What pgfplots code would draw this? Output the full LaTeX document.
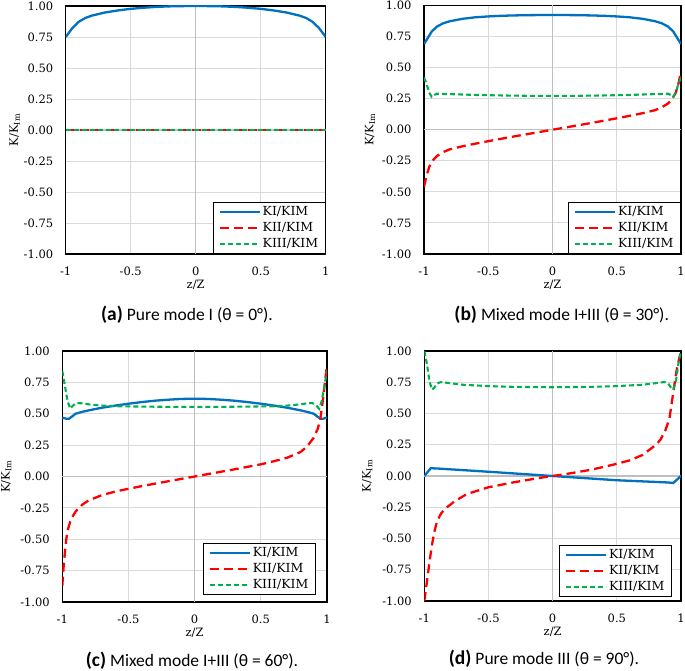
\documentclass[border=0pt]{standalone}
\usepackage{pgfplots}
\pgfplotsset{compat=1.18}
\usepackage{fontspec}
\setmainfont{DejaVu Serif}
\newfontfamily\capfont{Carlito}
\definecolor{kblue}{RGB}{0,112,192}
\definecolor{kred}{RGB}{255,0,0}
\definecolor{kgreen}{RGB}{0,176,80}
\definecolor{gridc}{RGB}{217,217,217}
\definecolor{zeroc}{RGB}{191,191,191}
\pgfplotsset{
  kstyle/.style={
    scale only axis,
    xmin=-1, xmax=1, ymin=-1, ymax=1,
    xtick={-1,-0.5,0,0.5,1},
    xticklabels={-1,-0.5,0,0.5,1},
    ytick={-1,-0.75,-0.5,-0.25,0,0.25,0.5,0.75,1},
    yticklabels={-1.00,-0.75,-0.50,-0.25,0.00,0.25,0.50,0.75,1.00},
    grid=major,
    grid style={draw=gridc, line width=0.9pt},
    major tick length=0pt,
    extra x ticks={0}, extra y ticks={0},
    extra x tick labels={}, extra y tick labels={},
    extra tick style={grid=major, major tick length=0pt, grid style={draw=zeroc, line width=1.3pt}},
    axis line style={black, line width=1.1pt},
    tick label style={font=\fontsize{11.5}{13}\selectfont},
    xticklabel style={anchor=base, yshift=-22pt},
    yticklabel style={anchor=east, xshift=-9pt},
    xlabel={z/Z},
    ylabel={K/K\textsubscript{Im}},
    label style={font=\fontsize{11.5}{13}\selectfont},
    xlabel style={at={(axis description cs:0.5,0)}, anchor=center, yshift=-31pt},
    legend cell align=left,
    legend style={draw=black, line width=1.1pt, fill=white,
      font=\fontsize{12.5}{14}\selectfont, inner xsep=5pt, inner ysep=2pt,
      row sep=1.5pt},
    legend image code/.code={\draw[#1] (0pt,0pt) -- (40pt,0pt);},
  },
  kI/.style={kblue, line width=2.3pt, solid},
  kII/.style={kred, line width=2.3pt, dash pattern=on 9pt off 5pt},
  kIII/.style={kgreen, line width=2.1pt, dash pattern=on 5pt off 3pt},
}
\begin{document}
\begin{tikzpicture}[x=1pt, y=1pt]
\useasboundingbox (0,0) rectangle (685,671);

% (a)
\begin{axis}[kstyle, at={(65.7pt,417pt)}, anchor=south west, width=260pt, height=248pt,
  ylabel style={at={([xshift=-51pt]axis description cs:0,0.5)}, anchor=center},
  legend style={at={(1,0)}, anchor=south east}]
\addplot[kI] coordinates {(-1,0.75) (-0.95,0.82) (-0.9,0.872) (-0.85,0.903) (-0.8,0.922) (-0.7,0.947) (-0.6,0.964) (-0.5,0.977) (-0.4,0.986) (-0.3,0.993) (-0.2,0.997) (-0.1,0.999) (0,1.0) (0.1,0.999) (0.2,0.997) (0.3,0.993) (0.4,0.986) (0.5,0.977) (0.6,0.964) (0.7,0.947) (0.8,0.922) (0.85,0.903) (0.9,0.872) (0.95,0.82) (1,0.75)};
\addlegendentry{KI/KIM}
\addplot[kII] coordinates {(-1,0) (-0.5,0) (0,0) (0.5,0) (1,0)};
\addlegendentry{KII/KIM}
\addplot[kIII] coordinates {(-1,0) (-0.5,0) (0,0) (0.5,0) (1,0)};
\addlegendentry{KIII/KIM}
\end{axis}
\node[font=\capfont\fontsize{17.5}{20}\selectfont] at (187,356) {{\fontsize{19.5}{22}\selectfont\bfseries (a)} Pure mode I (θ = 0°).};

% (b)
\begin{axis}[kstyle, at={(424pt,417pt)}, anchor=south west, width=257pt, height=248.5pt,
  ylabel style={at={([xshift=-54pt]axis description cs:0,0.5)}, anchor=center},
  legend style={at={(1,0)}, anchor=south east}]
\addplot[kI] coordinates {(-1,0.69) (-0.97,0.74) (-0.94,0.79) (-0.9,0.83) (-0.85,0.857) (-0.8,0.873) (-0.7,0.893) (-0.6,0.905) (-0.5,0.912) (-0.4,0.917) (-0.3,0.92) (-0.2,0.922) (-0.1,0.923) (0,0.923) (0.1,0.923) (0.2,0.922) (0.3,0.92) (0.4,0.917) (0.5,0.912) (0.6,0.905) (0.7,0.893) (0.8,0.873) (0.85,0.857) (0.9,0.83) (0.94,0.79) (0.97,0.74) (1,0.69)};
\addlegendentry{KI/KIM}
\addplot[kII] coordinates {(-1,-0.46) (-0.98,-0.37) (-0.96,-0.3) (-0.93,-0.245) (-0.9,-0.212) (-0.85,-0.18) (-0.8,-0.158) (-0.7,-0.133) (-0.6,-0.112) (-0.5,-0.092) (-0.4,-0.073) (-0.3,-0.054) (-0.2,-0.036) (-0.1,-0.018) (0,0) (0.1,0.018) (0.2,0.036) (0.3,0.054) (0.4,0.073) (0.5,0.092) (0.6,0.112) (0.7,0.133) (0.8,0.158) (0.85,0.18) (0.9,0.212) (0.93,0.245) (0.96,0.3) (0.98,0.37) (1,0.47)};
\addlegendentry{KII/KIM}
\addplot[kIII] coordinates {(-1,0.42) (-0.98,0.37) (-0.96,0.3) (-0.94,0.265) (-0.92,0.28) (-0.9,0.29) (-0.8,0.287) (-0.6,0.28) (-0.4,0.276) (-0.2,0.273) (0,0.272) (0.2,0.273) (0.4,0.276) (0.6,0.28) (0.8,0.287) (0.9,0.29) (0.92,0.28) (0.94,0.265) (0.96,0.3) (0.98,0.37) (1,0.42)};
\addlegendentry{KIII/KIM}
\end{axis}
\node[font=\capfont\fontsize{17.5}{20}\selectfont] at (561.7,356) {{\fontsize{19.5}{22}\selectfont\bfseries (b)} Mixed mode I+III (θ = 30°).};

% (c)
\begin{axis}[kstyle, at={(62.3pt,69pt)}, anchor=south west, width=264.7pt, height=251pt,
  ylabel style={at={([xshift=-56pt]axis description cs:0,0.5)}, anchor=center},
  legend style={at={(0.958,0.028)}, anchor=south east}]
\addplot[kI] coordinates {(-1,0.47) (-0.97,0.46) (-0.95,0.46) (-0.93,0.475) (-0.9,0.5) (-0.85,0.515) (-0.8,0.527) (-0.7,0.548) (-0.6,0.565) (-0.5,0.58) (-0.4,0.593) (-0.3,0.604) (-0.2,0.612) (-0.1,0.618) (0,0.62) (0.1,0.618) (0.2,0.612) (0.3,0.604) (0.4,0.593) (0.5,0.58) (0.6,0.565) (0.7,0.548) (0.8,0.527) (0.85,0.515) (0.9,0.5) (0.93,0.475) (0.95,0.46) (0.97,0.46) (1,0.47)};
\addlegendentry{KI/KIM}
\addplot[kII] coordinates {(-1,-0.87) (-0.99,-0.72) (-0.98,-0.6) (-0.97,-0.5) (-0.96,-0.43) (-0.94,-0.36) (-0.92,-0.315) (-0.9,-0.28) (-0.85,-0.225) (-0.8,-0.19) (-0.7,-0.148) (-0.6,-0.12) (-0.5,-0.098) (-0.4,-0.077) (-0.3,-0.057) (-0.2,-0.038) (-0.1,-0.019) (0,0) (0.1,0.019) (0.2,0.038) (0.3,0.057) (0.4,0.077) (0.5,0.097) (0.6,0.122) (0.7,0.15) (0.8,0.195) (0.85,0.24) (0.9,0.31) (0.93,0.38) (0.95,0.46) (0.97,0.62) (0.99,0.8) (1,0.89)};
\addlegendentry{KII/KIM}
\addplot[kIII] coordinates {(-1,0.84) (-0.98,0.72) (-0.96,0.6) (-0.94,0.54) (-0.92,0.565) (-0.89,0.585) (-0.85,0.583) (-0.8,0.575) (-0.7,0.565) (-0.6,0.56) (-0.4,0.557) (-0.2,0.555) (0,0.555) (0.2,0.555) (0.4,0.557) (0.6,0.56) (0.7,0.565) (0.8,0.575) (0.85,0.583) (0.89,0.585) (0.92,0.565) (0.94,0.54) (0.96,0.6) (0.98,0.72) (1,0.84)};
\addlegendentry{KIII/KIM}
\end{axis}
\node[font=\capfont\fontsize{17.5}{20}\selectfont] at (192,10) {{\fontsize{19.5}{22}\selectfont\bfseries (c)} Mixed mode I+III (θ = 60°).};

% (d)
\begin{axis}[kstyle, at={(424.3pt,70pt)}, anchor=south west, width=256.7pt, height=250pt,
  ylabel style={at={([xshift=-57pt]axis description cs:0,0.5)}, anchor=center},
  legend style={at={(0.965,0.016)}, anchor=south east}]
\addplot[kI] coordinates {(-1,0) (-0.95,0.062) (-0.9,0.06) (-0.5,0.034) (0,0) (0.5,-0.034) (0.9,-0.052) (0.94,-0.056) (1,0)};
\addlegendentry{KI/KIM}
\addplot[kII] coordinates {(-1,-1.0) (-0.98,-0.85) (-0.96,-0.69) (-0.94,-0.55) (-0.92,-0.44) (-0.9,-0.36) (-0.87,-0.3) (-0.83,-0.255) (-0.76,-0.2) (-0.67,-0.145) (-0.5,-0.09) (-0.3,-0.05) (-0.1,-0.015) (0,0) (0.1,0.015) (0.3,0.05) (0.47,0.09) (0.6,0.125) (0.7,0.168) (0.8,0.245) (0.84,0.29) (0.88,0.37) (0.91,0.46) (0.93,0.6) (0.95,0.74) (0.97,0.87) (1,1.0)};
\addlegendentry{KII/KIM}
\addplot[kIII] coordinates {(-1,1.0) (-0.98,0.9) (-0.96,0.76) (-0.94,0.69) (-0.92,0.71) (-0.9,0.74) (-0.87,0.752) (-0.8,0.742) (-0.7,0.73) (-0.5,0.719) (-0.3,0.713) (0,0.71) (0.3,0.713) (0.5,0.719) (0.7,0.73) (0.8,0.742) (0.87,0.752) (0.9,0.74) (0.92,0.71) (0.94,0.69) (0.96,0.76) (0.98,0.9) (1,1.0)};
\addlegendentry{KIII/KIM}
\end{axis}
\node[font=\capfont\fontsize{17.5}{20}\selectfont] at (544,12) {{\fontsize{19.5}{22}\selectfont\bfseries (d)} Pure mode III (θ = 90°).};
\end{tikzpicture}
\end{document}
